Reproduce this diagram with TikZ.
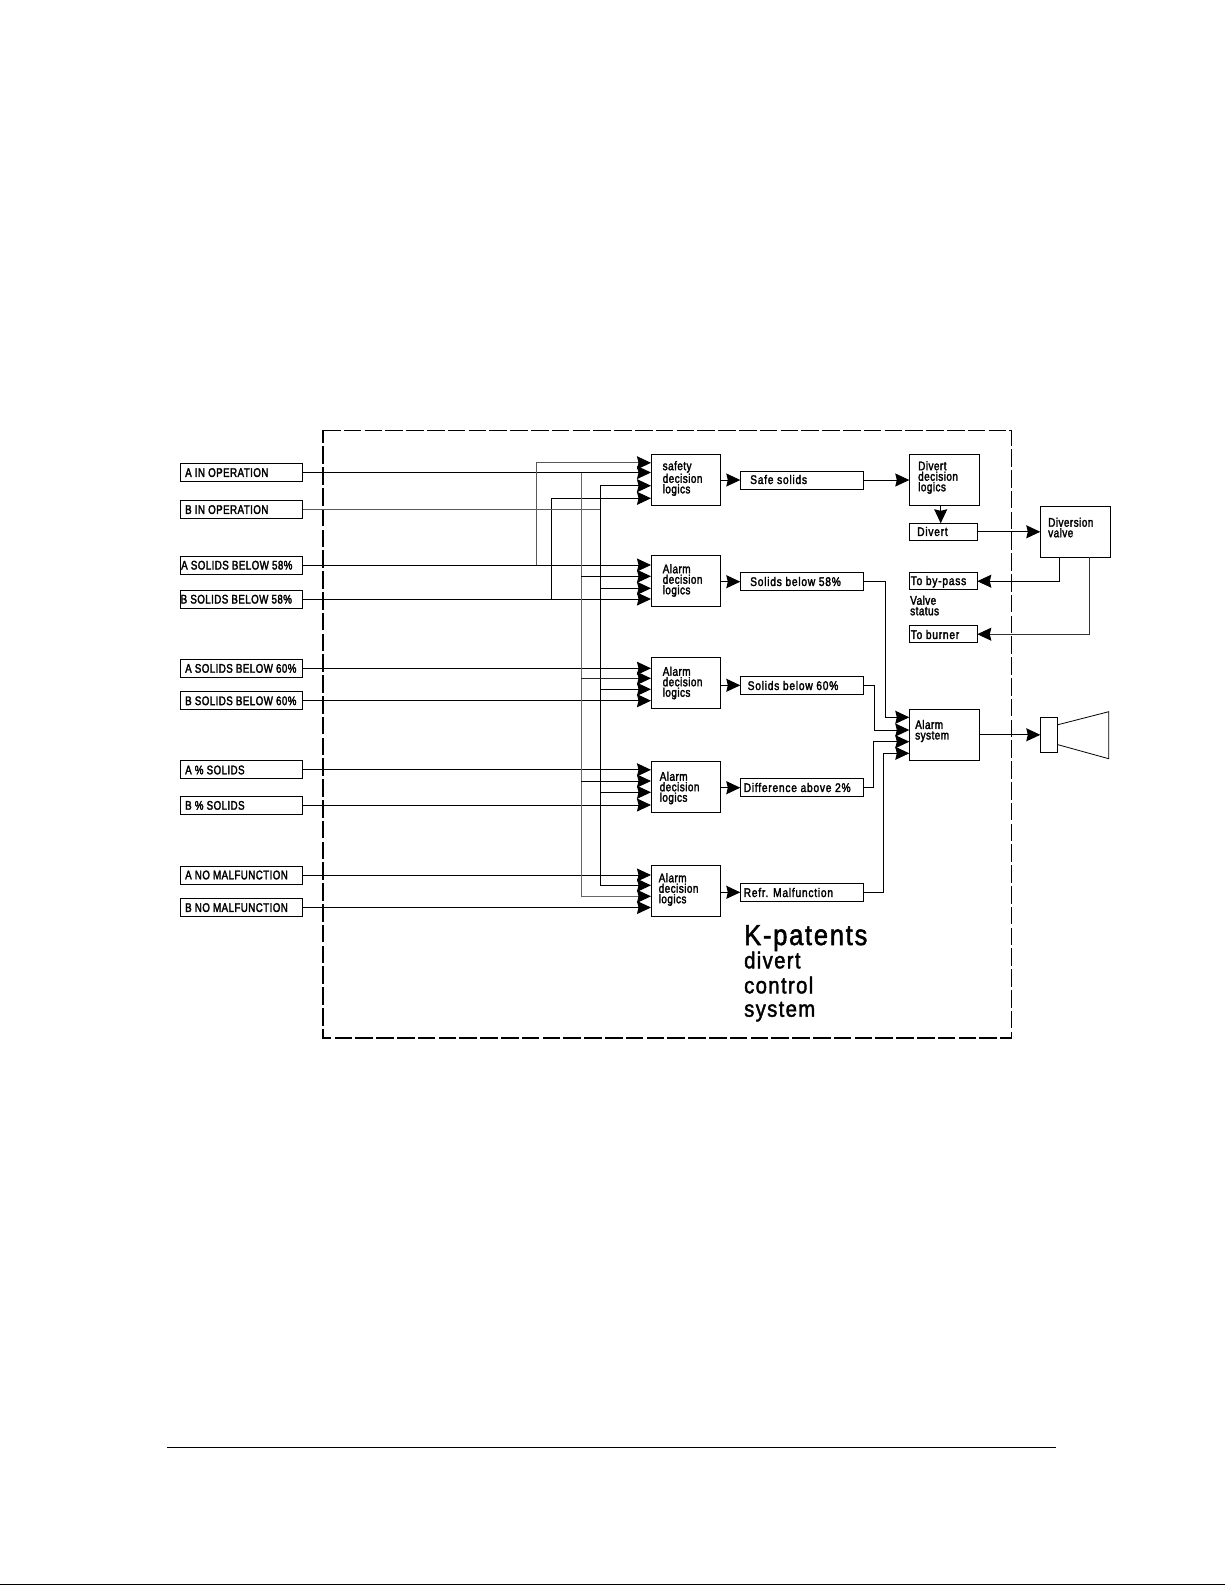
\documentclass[tikz,border=0pt]{standalone}
\usepackage{fontspec}
\setmainfont{Liberation Sans}
\newfontfamily\capsfont[FakeStretch=0.78,FakeBold=2.2,LetterSpace=3.5]{Liberation Sans}
\newfontfamily\narrowfont[FakeStretch=0.80,FakeBold=2.2,LetterSpace=3.5]{Liberation Sans}
\newfontfamily\widefont[FakeStretch=0.82,FakeBold=2.2,LetterSpace=6]{Liberation Sans}
\newfontfamily\titlefont[FakeStretch=0.88,FakeBold=1.8,LetterSpace=6]{Liberation Sans}
\usetikzlibrary{arrows.meta,calc}
\tikzset{
  x=1pt,y=-1pt,
  box/.style={draw,line width=1pt,inner sep=0pt,outer sep=0pt,anchor=north west},
  inbox/.style={box,minimum width=122.5pt,minimum height=18pt},
  outbox/.style={box,minimum width=122.7pt,minimum height=18pt},
  logicbox/.style={box,minimum width=69.7pt,minimum height=51pt},
  statusbox/.style={box,minimum width=68pt,minimum height=17pt},
  txt/.style={font=\narrowfont\fontsize{12.5}{10.5}\selectfont,inner sep=0pt,anchor=west,align=left},
  captxt/.style={txt,font=\capsfont\fontsize{12.5}{10.5}\selectfont},
  outtxt/.style={txt,font=\widefont\fontsize{12.5}{10.5}\selectfont},
  bigtxt/.style={font=\titlefont\fontsize{29}{29}\selectfont,inner sep=0pt,anchor=base west},
  midtxt/.style={font=\titlefont\fontsize{23}{23}\selectfont,inner sep=0pt,anchor=base west},
  conn/.style={line width=1pt,-{Stealth[length=14pt,width=13pt,inset=1.5pt,color=black]}},
  wire/.style={line width=1pt},
}
\begin{document}
\begin{tikzpicture}
\useasboundingbox (0,0) rectangle (1225,1585);
\fill[white] (0,0) rectangle (1225,1585);

% frame
\draw[line width=1.6pt,dash pattern=on 17.5pt off 3.3pt] (323,430.3) -- (1011.3,430.3) -- (1011.3,1038) -- (323,1038) -- cycle;

% page rules
\coordinate (ruleL) at (167,1447.3);
\coordinate (ruleR) at (1056,1447.3);
\draw[line width=1pt] (ruleL) -- (ruleR);
\coordinate (edgeL) at (0,1584.3);
\coordinate (edgeR) at (1225,1584.3);
\draw[line width=1.4pt] (edgeL) -- (edgeR);

% input boxes
\node[inbox] (aop) at (180,463.5) {};
\node[inbox] (bop) at (180,500.5) {};
\node[inbox] (a58) at (180,556) {};
\node[inbox] (b58) at (180,590) {};
\node[inbox] (a60) at (180,659.3) {};
\node[inbox] (b60) at (180,691.7) {};
\node[inbox] (apc) at (180,760.8) {};
\node[inbox] (bpc) at (180,796) {};
\node[inbox] (ano) at (180,866) {};
\node[inbox] (bno) at (180,898.5) {};
\node[captxt] at (185,472.6) {A IN OPERATION};
\node[captxt] at (185,509.6) {B IN OPERATION};
\node[captxt] at (181,565.2) {A SOLIDS BELOW 58\%};
\node[captxt] at (180.5,599.2) {B SOLIDS BELOW 58\%};
\node[captxt] at (185,668.4) {A SOLIDS BELOW 60\%};
\node[captxt] at (185,700.8) {B SOLIDS BELOW 60\%};
\node[captxt] at (185,770) {A \% SOLIDS};
\node[captxt] at (185,805.4) {B \% SOLIDS};
\node[captxt] at (185,875) {A NO MALFUNCTION};
\node[captxt] at (185,907.6) {B NO MALFUNCTION};

% logic boxes
\node[logicbox] (safe) at (651,454.3) {};
\node[logicbox] (al1) at (651,555) {};
\node[logicbox] (al2) at (651,657.7) {};
\node[logicbox] (al3) at (651,761.7) {};
\node[logicbox] (al4) at (651,865.7) {};
\node[logicbox] (dv) at (909.3,454.3) {};
\node[logicbox] (asys) at (909.3,709.3) {};
\node[logicbox,minimum width=70pt,minimum height=50.6pt] (valve) at (1040.3,506.7) {};
\node[txt] at (662.5,478.5) {safety\\decision\\logics};
\node[txt] at (662.5,580.5) {Alarm\\decision\\logics};
\node[txt] at (662.5,683) {Alarm\\decision\\logics};
\node[txt] at (659.5,788) {Alarm\\decision\\logics};
\node[txt] at (658.5,889.5) {Alarm\\decision\\logics};
\node[txt] at (918,477.5) {Divert\\decision\\logics};
\node[txt] at (915,731) {Alarm\\system};
\node[txt] at (1048,527.5) {Diversion\\valve};

% output boxes
\node[outbox] (osafe) at (740.3,471) {};
\node[outbox] (o58) at (740.3,572.7) {};
\node[outbox] (o60) at (740.3,676.3) {};
\node[outbox] (odf) at (740.3,778.7) {};
\node[outbox] (orf) at (740.3,883.3) {};
\node[outtxt] at (750,479.5) {Safe solids};
\node[outtxt] at (750,581.5) {Solids below 58\%};
\node[outtxt] at (747.5,685.5) {Solids below 60\%};
\node[outtxt] at (743.5,787.5) {Difference above 2\%};
\node[outtxt] at (743.5,892.5) {Refr. Malfunction};

% status boxes
\node[statusbox] (div) at (909.3,523.3) {};
\node[statusbox] (byp) at (909.3,572.7) {};
\node[statusbox] (bur) at (909.3,625.7) {};
\node[outtxt] at (917,531.5) {Divert};
\node[outtxt] at (910.5,581.8) {To by-pass};
\node[outtxt] at (910.5,634.5) {To burner};
\node[txt] (vs) at (910,605.5) {Valve\\status};

% horn
\node[box,minimum width=17pt,minimum height=34.7pt] (spk) at (1040.3,717.3) {};
\coordinate (hornA) at (1058,724.7);
\coordinate (hornB) at (1108.7,711.7);
\coordinate (hornC) at (1108.7,758.7);
\coordinate (hornD) at (1058,744.7);
\draw[line width=0.8pt] (hornA) -- (hornB) -- (hornC) -- (hornD);

% title
\node[bigtxt] (t1) at (744,945) {K-patents};
\node[midtxt] (t2) at (744,968.3) {divert};
\node[midtxt] (t3) at (744,993.3) {control};
\node[midtxt] (t4) at (744,1016.7) {system};

% input bus positions
\coordinate (xa) at (536,0);
\coordinate (xb) at (551.3,0);
\coordinate (xc) at (581.3,0);
\coordinate (xd) at (600.3,0);

% direct inputs
\draw[conn,line width=1.4pt] (aop.east) -- (aop.east -| safe.west);
\draw[conn] (a58.east) -- (a58.east -| al1.west);
\draw[conn] (b58.east) -- (b58.east -| al1.west);
\draw[conn] (a60.east) -- (a60.east -| al2.west);
\draw[conn] (b60.east) -- (b60.east -| al2.west);
\draw[conn] (apc.east) -- (apc.east -| al3.west);
\draw[conn] (bpc.east) -- (bpc.east -| al3.west);
\draw[conn] (ano.east) -- (ano.east -| al4.west);
\draw[conn] (bno.east) -- (bno.east -| al4.west);

% solids inputs to safety logic
\coordinate (s1) at ([yshift=17.0pt]safe.west);
\coordinate (s3) at ([yshift=-5.9pt]safe.west);
\coordinate (s4) at ([yshift=-18.5pt]safe.west);
\draw[conn,black!65] (a58.east -| xa) |- (s1);
\draw[conn] (b58.east -| xb) |- (s4);

% B in operation bus (x = xd)
\draw[wire,black!65] (bop.east) -- (bop.east -| xd);
\draw[conn] (bop.east -| xd) |- (s3);
\coordinate (d1) at (651,588.3);
\coordinate (d2) at (651,689.3);
\coordinate (d3) at (651,792.3);
\coordinate (d4) at (651,885.3);
\draw[conn] (bop.east -| xd) |- (d4);
\draw[conn] (d1 -| xd) -- (d1);
\draw[conn] (d2 -| xd) -- (d2);
\draw[conn] (d3 -| xd) -- (d3);

% A in operation bus (x = xc)
\coordinate (c1) at (651,576.3);
\coordinate (c2) at (651,678.3);
\coordinate (c3) at (651,781);
\coordinate (c4) at (651,896.3);
\draw[conn,black!60] (aop.east -| xc) |- (c4);
\draw[conn] (c1 -| xc) -- (c1);
\draw[conn,black!85] (c2 -| xc) -- (c2);
\draw[conn] (c3 -| xc) -- (c3);

% logic to outputs
\draw[conn] (safe.east |- osafe.west) -- (osafe.west);
\draw[conn] (al1.east |- o58.west) -- (o58.west);
\draw[conn] (al2.east |- o60.west) -- (o60.west);
\draw[conn] (al3.east |- odf.west) -- (odf.west);
\draw[conn] (al4.east |- orf.west) -- (orf.west);

% outputs to alarm system
\coordinate (y1) at (909.3,717.3);
\coordinate (y2) at (909.3,730);
\coordinate (y3) at (909.3,741.7);
\coordinate (y4) at (909.3,753.3);
\coordinate (k1) at (885.7,0);
\coordinate (k2) at (874.7,0);
\coordinate (k3) at (873.3,0);
\coordinate (k4) at (883.3,0);
\draw[conn] (o58.east) -| (k1 |- y1) -- (y1);
\draw[conn] (o60.east) -| (k2 |- y2) -- (y2);
\draw[conn] (odf.east) -| (k3 |- y3) -- (y3);
\draw[conn] (orf.east) -| (k4 |- y4) -- (y4);

% divert chain
\draw[conn] (osafe.east) -- (osafe.east -| dv.west);
\coordinate (dvb) at (940.7,505);
\coordinate (dvt) at (940.7,523.3);
\draw[conn] (dvb) -- (dvt);
\draw[conn] (div.east) -- (div.east -| valve.west);
\coordinate (v1) at (1059.3,557.3);
\coordinate (v2) at (1089,557.3);
\draw[conn] (v1) |- (byp.east);
\draw[conn,black!80] (v2) |- (bur.east);

% alarm to horn
\draw[conn] (asys.east) -- (asys.east -| spk.west);
\end{tikzpicture}
\end{document}
